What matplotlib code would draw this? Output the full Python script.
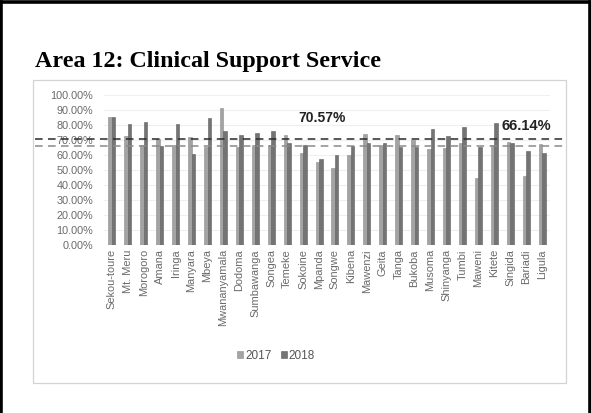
import numpy as np
import matplotlib
matplotlib.use("Agg")
import matplotlib.pyplot as plt
from matplotlib.patches import Rectangle
from matplotlib.lines import Line2D
from matplotlib.transforms import blended_transform_factory

# Hospital names and scores (%) for the Clinical Support Service area
hospitals = ["Sekou-toure", "Mt. Meru", "Morogoro", "Amana", "Iringa", "Manyara",
             "Mbeya", "Mwananyamala", "Dodoma", "Sumbawanga", "Songea", "Temeke",
             "Sokoine", "Mpanda", "Songwe", "Kibena", "Mawenzi", "Geita", "Tanga",
             "Bukoba", "Musoma", "Shinyanga", "Tumbi", "Maweni", "Kitete",
             "Singida", "Bariadi", "Ligula"]
scores_2017 = [85.5, 72.7, 66.7, 71.0, 66.7, 72.0, 65.6, 91.5, 65.6, 66.7, 67.0,
               73.3, 61.6, 55.3, 51.6, 60.2, 73.8, 66.7, 73.3, 70.0, 64.0, 64.9,
               68.2, 44.4, 66.7, 68.9, 46.2, 67.3]
scores_2018 = [85.5, 81.0, 81.8, 66.0, 80.4, 61.0, 84.4, 76.0, 73.3, 75.0, 76.0,
               68.0, 66.7, 57.3, 59.9, 66.2, 67.8, 67.8, 65.6, 65.6, 77.1, 72.7,
               78.4, 65.6, 81.1, 68.2, 62.9, 61.5]
series_names = ["2017", "2018"]
average_2018 = 70.57
average_2017 = 66.14
yticks = np.arange(0, 101, 10)

W, H = 591, 413
fig = plt.figure(figsize=(W / 100, H / 100), dpi=100)
fig.patch.set_facecolor("white")

def fx(px):
    return px / W

def fy(py):
    return 1 - py / H

# Page frame (left, top, right)
for xs, ys in [([fx(1.5), fx(1.5)], [0, fy(1.5)]),
               ([fx(1.5), fx(589.5)], [fy(1.5), fy(1.5)]),
               ([fx(589.5), fx(589.5)], [fy(1.5), 0])]:
    fig.add_artist(Line2D(xs, ys, color="black", lw=2.6, transform=fig.transFigure))

# Section heading
fig.text(fx(35), fy(61), "Area 12: Clinical Support Service",
         family="Liberation Serif", weight="bold", fontsize=17.3,
         ha="left", va="center", color="black")

# Chart container
container = Rectangle((fx(33), fy(383)), fx(566) - fx(33), fy(80) - fy(383),
                      transform=fig.transFigure, facecolor="white",
                      edgecolor="#d4d4d4", lw=0.9, zorder=-1)
fig.add_artist(container)

ax = fig.add_axes([fx(104), fy(245), fx(550) - fx(104), fy(95) - fy(245)])
ax.set_zorder(2)
ax.set_facecolor("none")

x = np.arange(len(hospitals))
bw = 0.22
c17, c18 = "#a3a3a3", "#747474"
ax.bar(x - bw / 2, scores_2017, width=bw, color=c17, edgecolor="#8c8c8c",
       lw=0.4, label=series_names[0], zorder=3)
ax.bar(x + bw / 2, scores_2018, width=bw, color=c18, edgecolor="#5e5e5e",
       lw=0.4, label=series_names[1], zorder=3)

ax.set_xlim(-0.5, len(hospitals) - 0.5)
ax.set_ylim(0, 100)
ax.set_yticks(yticks)
ax.set_yticklabels([f"{v:.2f}%" for v in yticks], fontsize=7.8,
                   color="#6a6a6a", family="Liberation Sans")
ax.set_xticks(x)
ax.set_xticklabels(hospitals, rotation=90, fontsize=7.9, color="#6a6a6a",
                   family="Liberation Sans")
ax.tick_params(axis="both", length=0, pad=3)
ax.tick_params(axis="y", pad=8)
ax.grid(axis="y", color="#efefef", lw=0.8, zorder=0)
for s in ax.spines.values():
    s.set_visible(False)

# Average lines spanning the whole chart width
tr = blended_transform_factory(fig.transFigure, ax.transData)
ax.add_line(Line2D([fx(35), fx(566)], [average_2018, average_2018],
                   transform=tr, color="#2a2a2a", lw=1.1, ls=(0, (5, 3.5)),
                   clip_on=False, zorder=4))
ax.add_line(Line2D([fx(35), fx(566)], [average_2017, average_2017],
                   transform=tr, color="#8a8a8a", lw=1.1, ls=(0, (5, 3.5)),
                   clip_on=False, zorder=4))
ax.text(fx(298), 84.5, f"{average_2018:.2f}%", transform=tr, fontsize=10,
        weight="bold", family="Liberation Sans", color="#222222",
        ha="left", va="center")
ax.text(fx(501), 79.5, f"{average_2017:.2f}%", transform=tr, fontsize=10.5,
        weight="bold", family="Liberation Sans", color="#222222",
        ha="left", va="center")

leg = ax.legend(loc="center", bbox_to_anchor=(fx(276), fy(356)),
                bbox_transform=fig.transFigure, ncol=2, frameon=False,
                prop={"family": "Liberation Sans", "size": 8.5},
                handlelength=0.5, handleheight=0.5, handletextpad=0.15,
                columnspacing=0.8)
for t in leg.get_texts():
    t.set_color("#555555")

fig.savefig("out.png", dpi=100)
